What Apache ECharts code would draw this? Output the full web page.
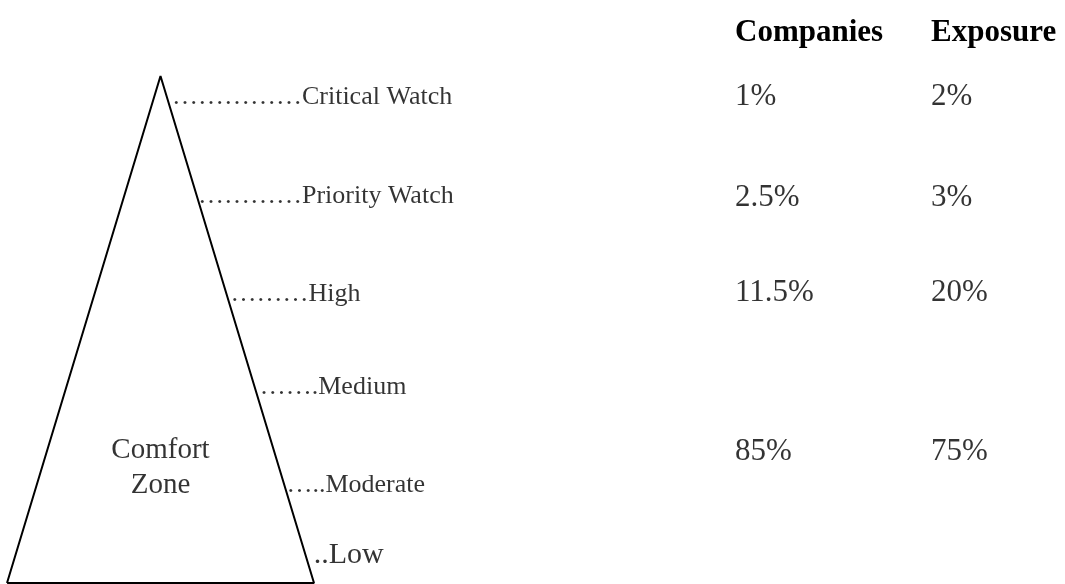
<!DOCTYPE html>
<html>
<head>
<meta charset="utf-8">
<script src="https://cdn.jsdelivr.net/npm/echarts@6/dist/echarts.min.js"></script>
<style>
  html, body { margin: 0; padding: 0; background: #fff; }
  #chart { width: 1065px; height: 584px; }
</style>
</head>
<body>
<div id="chart"></div>
<script>
// ---- data ----
const tierNames   = ['Critical Watch', 'Priority Watch', 'High', 'Medium', 'Moderate', 'Low'];
const tierLeaders = ['\u2026\u2026\u2026\u2026\u2026', '\u2026\u2026\u2026\u2026', '\u2026\u2026\u2026', '\u2026\u2026.', '\u2026..', '..'];
const tierLevel   = [0.9645, 0.769, 0.576, 0.3925, 0.199, 0.061];   // height up the triangle (0 = base, 1 = apex)
const zoneName    = 'Comfort\nZone';
const zoneLevel   = 0.232;
const columns     = ['Companies', 'Exposure'];
const rowLevel    = [0.9645, 0.765, 0.578, 0.264];
const companies   = [1, 2.5, 11.5, 85];
const exposure    = [2, 3, 20, 75];
const triangle    = [[0, 0], [0.5, 1], [1, 0], [0, 0]];

// ---- styles ----
const FONT = '"Liberation Serif", "Times New Roman", serif';
const tierGap  = [6, 2, 5, 6, 3, 9];
const tierSize = [26, 26, 26, 26, 26, 30];
const TEXT_DY = 3;

const edgeX = h => 1 - h / 2;   // right edge of the triangle at height h

const chart = echarts.init(document.getElementById('chart'), null, { renderer: 'canvas' });

const hiddenVal = (extra) => Object.assign({
  type: 'value', min: 0, max: 1, show: false,
  splitLine: { show: false }
}, extra || {});

chart.setOption({
  backgroundColor: '#ffffff',
  animation: false,
  grid: [
    { left: 7, top: 76, width: 307, height: 507 },
    { left: 735, top: 76, width: 196, height: 507 }
  ],
  xAxis: [
    hiddenVal({ gridIndex: 0 }),
    {
      gridIndex: 1, type: 'category', data: columns, boundaryGap: false,
      position: 'top',
      axisLine: { show: false }, axisTick: { show: false }, splitLine: { show: false },
      axisLabel: {
        show: true, align: 'left', margin: 28,
        fontFamily: FONT, fontSize: 31, fontWeight: 'bold', color: '#000'
      }
    }
  ],
  yAxis: [
    hiddenVal({ gridIndex: 0 }),
    hiddenVal({ gridIndex: 1 })
  ],
  series: [
    {
      type: 'line', xAxisIndex: 0, yAxisIndex: 0,
      data: triangle, symbol: 'none', clip: false,
      lineStyle: { color: '#000', width: 2 },
      silent: true
    },
    {
      type: 'scatter', xAxisIndex: 0, yAxisIndex: 0, symbolSize: 0, clip: false,
      data: tierLevel.map((h, i) => ({
        value: [edgeX(h), h],
        label: {
          show: true, position: 'right', distance: tierGap[i], offset: [0, TEXT_DY],
          formatter: tierLeaders[i] + tierNames[i],
          fontFamily: FONT, fontSize: tierSize[i], color: '#000'
        }
      })),
      silent: true
    },
    {
      type: 'scatter', xAxisIndex: 0, yAxisIndex: 0, symbolSize: 0, clip: false,
      data: [[0.5, zoneLevel]],
      label: {
        show: true, position: 'inside', formatter: zoneName, offset: [0, TEXT_DY],
        fontFamily: FONT, fontSize: 29, lineHeight: 35, color: '#000', align: 'center'
      },
      silent: true
    },
    {
      type: 'scatter', xAxisIndex: 1, yAxisIndex: 1, symbolSize: 0, clip: false,
      data: companies.map((v, i) => [0, rowLevel[i], v]),
      label: {
        show: true, position: 'right', distance: 0, offset: [0, TEXT_DY],
        formatter: p => p.value[2] + '%',
        fontFamily: FONT, fontSize: 31, color: '#000'
      },
      silent: true
    },
    {
      type: 'scatter', xAxisIndex: 1, yAxisIndex: 1, symbolSize: 0, clip: false,
      data: exposure.map((v, i) => [1, rowLevel[i], v]),
      label: {
        show: true, position: 'right', distance: 0, offset: [0, TEXT_DY],
        formatter: p => p.value[2] + '%',
        fontFamily: FONT, fontSize: 31, color: '#000'
      },
      silent: true
    }
  ]
});
</script>
</body>
</html>
